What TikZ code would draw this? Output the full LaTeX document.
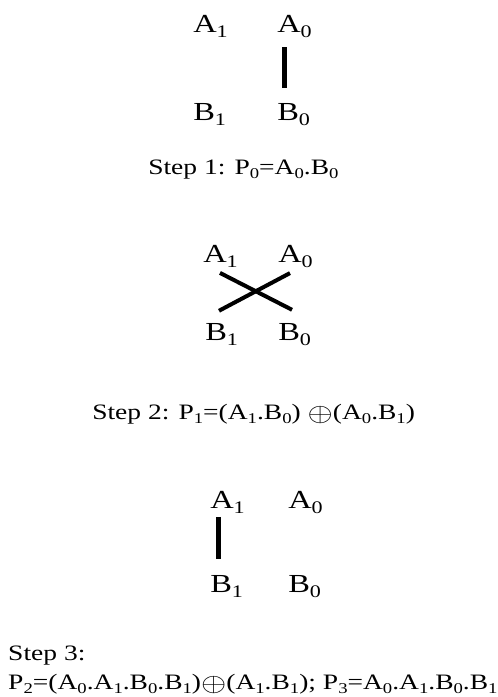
\documentclass[tikz,border=0pt]{standalone}
\usepackage{fontspec}
\setmainfont{Liberation Serif}
\usepackage{graphicx}
\newcommand{\xo}{\raisebox{-0.1em}{\scalebox{1.25}{$\oplus$}}}
\newcommand{\sbs}[1]{\raisebox{-0.22em}{\scalebox{0.68}{#1}}}
\begin{document}
\begin{tikzpicture}[x=1pt,y=-1pt,
  lbl/.style={anchor=base west, inner sep=0pt, font=\fontsize{26}{26}\selectfont, xscale=1.25},
  steptext/.style={anchor=base west, inner sep=0pt, font=\fontsize{22}{26}\selectfont, xscale=1.25},
  bar/.style={line width=5pt},
  xbar/.style={line width=4pt}]
\useasboundingbox[fill=white] (0,0) rectangle (498,697);
% Step 1
\node[lbl] (a1s1) at (193,32) {A\sbs{1}};
\node[lbl] (a0s1) at (277,32) {A\sbs{0}};
\node[lbl] (b1s1) at (193,120) {B\sbs{1}};
\node[lbl] (b0s1) at (277,120) {B\sbs{0}};
\draw[bar] ([xshift=7pt,yshift=-9pt]a0s1.south west) -- ([xshift=7pt,yshift=15pt]b0s1.north west);
\node[steptext] (c1) at (148,174) {Step 1: P\sbs{0}=A\sbs{0}.B\sbs{0}};
% Step 2
\node[lbl] (a1s2) at (203,262) {A\sbs{1}};
\node[lbl] (a0s2) at (278,262) {A\sbs{0}};
\node[lbl] (b1s2) at (205,340) {B\sbs{1}};
\node[lbl] (b0s2) at (278,340) {B\sbs{0}};
\draw[xbar] ([xshift=17pt,yshift=-5pt]a1s2.south west) -- ([xshift=14pt,yshift=13pt]b0s2.north west);
\draw[xbar] ([xshift=14pt,yshift=12pt]b1s2.north west) -- ([xshift=12pt,yshift=-5pt]a0s2.south west);
\node[steptext] (c2) at (92,419) {Step 2: P\sbs{1}=(A\sbs{1}.B\sbs{0}) \xo(A\sbs{0}.B\sbs{1})};
% Step 3
\node[lbl] (a1s3) at (210,508) {A\sbs{1}};
\node[lbl] (a0s3) at (288,508) {A\sbs{0}};
\node[lbl] (b1s3) at (210,592) {B\sbs{1}};
\node[lbl] (b0s3) at (288,592) {B\sbs{0}};
\draw[bar] ([xshift=8pt,yshift=-3pt]a1s3.south west) -- ([xshift=8pt,yshift=16pt]b1s3.north west);
\node[steptext] (c3a) at (8,660) {Step 3:};
\node[steptext] (c3b) at (8,689) {P\sbs{2}=(A\sbs{0}.A\sbs{1}.B\sbs{0}.B\sbs{1})\xo(A\sbs{1}.B\sbs{1}); P\sbs{3}=A\sbs{0}.A\sbs{1}.B\sbs{0}.B\sbs{1}};
\end{tikzpicture}
\end{document}
